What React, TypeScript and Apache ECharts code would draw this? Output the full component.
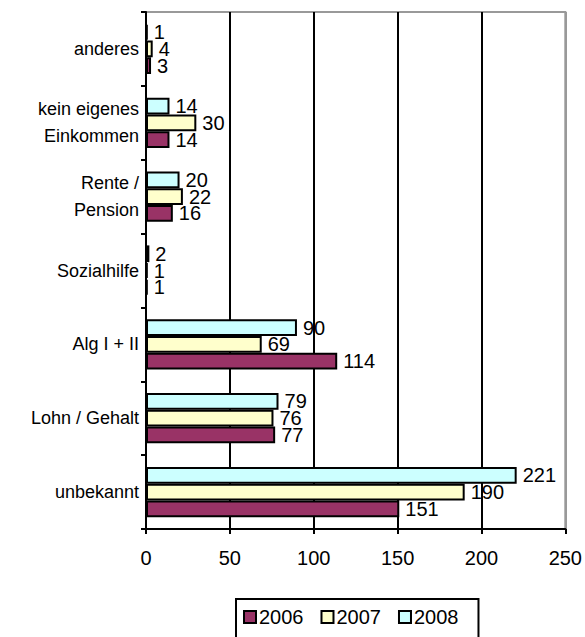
import React, { useEffect, useRef } from "react";
import * as echarts from "echarts";

const categories = [
  "unbekannt",
  "Lohn / Gehalt",
  "Alg I + II",
  "Sozialhilfe",
  "Rente /\nPension",
  "kein eigenes\nEinkommen",
  "anderes",
];
const values2006 = [151, 77, 114, 1, 16, 14, 3];
const values2007 = [190, 76, 69, 1, 22, 30, 4];
const values2008 = [221, 79, 90, 2, 20, 14, 1];
const seriesNames = ["2006", "2007", "2008"];
const seriesColors = ["#993366", "#FFFFCC", "#CCFFFF"];
const xTicks = [0, 50, 100, 150, 200, 250];

const FONT = "Liberation Sans, Arial, sans-serif";

export default function App() {
  const ref = useRef<HTMLDivElement>(null);
  useEffect(() => {
    if (!ref.current) return;
    const chart = echarts.init(ref.current, undefined, { renderer: "svg" });
    const data = [values2006, values2007, values2008];
    // draw 2008 first so that it sits on top within each group
    const order = [2, 1, 0];
    chart.setOption({
      animation: false,
      textStyle: { fontFamily: FONT },
      grid: {
        left: 146,
        right: 19,
        top: 12,
        bottom: 108,
        show: true,
        borderColor: "#999999",
        borderWidth: 2,
        backgroundColor: "transparent",
      },
      legend: {
        left: 236,
        top: 599,
        orient: "horizontal",
        borderColor: "#000",
        borderWidth: 2,
        padding: [8, 20, 30, 7],
        itemWidth: 12,
        itemHeight: 12,
        itemGap: 17,
        icon: "rect",
        textStyle: { fontSize: 20, color: "#000", fontFamily: FONT, padding: [0, 0, 0, -2] },
        data: seriesNames,
      },
      xAxis: {
        type: "value",
        min: xTicks[0],
        max: xTicks[xTicks.length - 1],
        interval: 50,
        axisLine: { show: true, lineStyle: { color: "#000", width: 2 } },
        axisTick: { show: true, length: 5, lineStyle: { color: "#000", width: 2 } },
        axisLabel: { fontSize: 20, color: "#000", margin: 19, fontFamily: FONT },
        splitLine: {
          show: true,
          lineStyle: {
            color: ["#000", "#000", "#000", "#000", "#000", "#999999"],
            width: 2,
          },
        },
      },
      yAxis: {
        type: "category",
        data: categories,
        axisLine: { show: true, lineStyle: { color: "#000", width: 2 } },
        axisTick: { show: true, length: 5, lineStyle: { color: "#000", width: 2 } },
        axisLabel: {
          fontSize: 18,
          color: "#000",
          margin: 7,
          lineHeight: 27,
          fontFamily: FONT,
        },
        splitLine: { show: false },
      },
      series: order.map((i) => ({
        name: seriesNames[i],
        type: "bar",
        data: data[i],
        barGap: "0%",
        barCategoryGap: "32%",
        itemStyle: { color: seriesColors[i], borderColor: "#000", borderWidth: 2 },
        label: {
          show: true,
          position: "right",
          distance: 6,
          fontSize: 20,
          color: "#000",
          fontFamily: FONT,
        },
      })),
    });
    return () => chart.dispose();
  }, []);
  return <div ref={ref} style={{ width: 585, height: 637, position: "absolute", left: 0, top: 0 }} />;
}
